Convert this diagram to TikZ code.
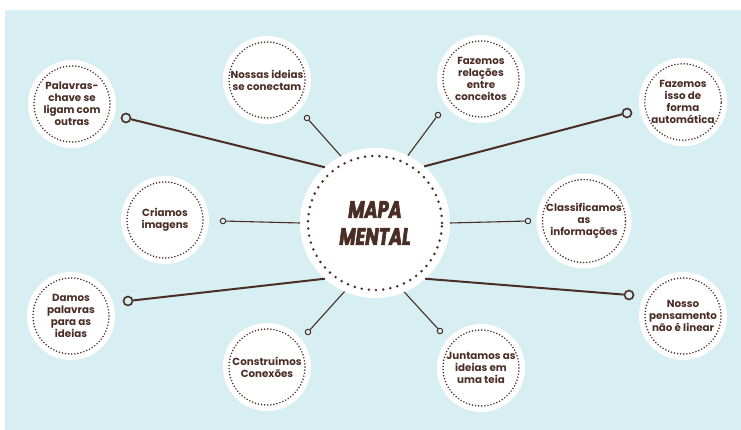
\documentclass[tikz,border=0pt]{standalone}
\usepackage{fontspec}
\setmainfont{Poppins}
\newfontfamily\mapafont{Poppins}[FakeStretch=0.74, FakeBold=2.5]
\definecolor{bgblue}{HTML}{D7EEF2}
\definecolor{darkbrown}{HTML}{4A2E26}

\begin{document}
\begin{tikzpicture}[x=1pt, y=-1pt,
        bubble_style/.style={circle, align=center, minimum size=76pt, inner sep=0pt, draw=darkbrown, line width=1.7pt, line cap=round, dash pattern=on 0pt off 3.1pt, preaction={draw=white, solid, line width=12pt, fill=white}, text=darkbrown, font=\bfseries\fontsize{10.3}{12}\selectfont},
        center_style/.style={circle, align=center, minimum size=134pt, inner sep=0pt, outer sep=8pt, draw=darkbrown, line width=2.8pt, line cap=round, dash pattern=on 0pt off 7.2pt, preaction={draw=white, solid, line width=16pt, fill=white}, text=darkbrown, font=\mapafont\bfseries\itshape\fontsize{24}{27}\selectfont},
        big_end_style/.style={circle, draw=darkbrown, fill=bgblue, line width=1.6pt, minimum size=9pt, inner sep=0pt},
        small_end_style/.style={circle, draw=darkbrown, fill=bgblue, line width=1pt, minimum size=5.5pt, inner sep=0pt},
        edge_style/.style={draw=darkbrown, line width=2pt},
        short_edge_style/.style={draw=darkbrown, line width=1.1pt}]

        \useasboundingbox (0,0) rectangle (741,430);
        \fill [bgblue] (5,10) rectangle (741,430);

        \node [center_style](mapa) at (375,223) {MAPA\\MENTAL};

        \node [bubble_style](b1) at (72,104) {Palavras-\\chave se\\ligam com\\outras};

        \node [bubble_style](b2) at (267,80) {Nossas ideias\\se conectam};

        \node [bubble_style](b3) at (481,79) {Fazemos\\relações\\entre\\conceitos};

        \node [bubble_style](b4) at (683,102) {Fazemos\\isso de\\forma\\automática};

        \node [bubble_style](b5) at (165,220) {Criamos\\imagens};

        \node [bubble_style](b6) at (584,221) {Classificamos\\as\\informações};

        \node [bubble_style](b7) at (71,316) {Damos\\palavras\\para as\\ideias};

        \node [bubble_style](b8) at (683,316) {Nosso\\pensamento\\não é linear};

        \node [bubble_style](b9) at (267,367) {Construímos\\Conexões};

        \node [bubble_style](b10) at (481,368) {Juntamos as\\ideias em\\uma teia};

        \node [big_end_style](k1) at (126,118) {};

        \node [small_end_style](k2) at (307,118) {};

        \node [small_end_style](k3) at (438,115) {};

        \node [big_end_style](k4) at (627,113) {};

        \node [small_end_style](k5) at (223,221) {};

        \node [small_end_style](k6) at (528,221) {};

        \node [big_end_style](k7) at (128,301) {};

        \node [big_end_style](k8) at (629,295) {};

        \node [small_end_style](k9) at (308,332) {};

        \node [small_end_style](k10) at (440,331) {};

        \draw [edge_style] (mapa.132) -- (k1);

        \draw [short_edge_style] (mapa.117) -- (k2);

        \draw [short_edge_style] (mapa.64) -- (k3);

        \draw [edge_style] (mapa.49) -- (k4);

        \draw [short_edge_style] (mapa.180) -- (k5);

        \draw [short_edge_style] (mapa.0) -- (k6);

        \draw [edge_style] (mapa.228) -- (k7);

        \draw [edge_style] (mapa.312) -- (k8);

        \draw [short_edge_style] (mapa.246) -- (k9);

        \draw [short_edge_style] (mapa.293) -- (k10);

        \end{tikzpicture}
\end{document}
